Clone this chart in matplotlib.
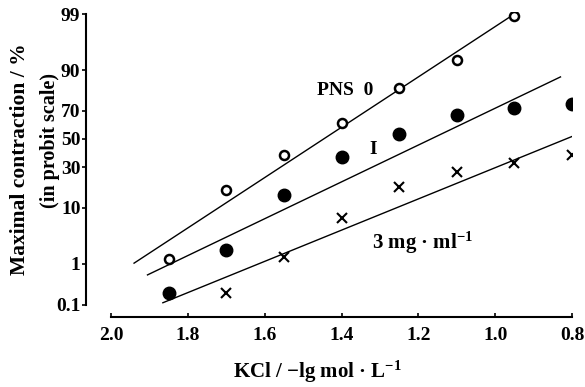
import numpy as np
import matplotlib
matplotlib.use('Agg')
import matplotlib.pyplot as plt
from statistics import NormalDist

plt.rcParams['font.family'] = ['Liberation Serif', 'DejaVu Serif']
plt.rcParams['font.weight'] = 'bold'
plt.rcParams['mathtext.fontset'] = 'custom'
plt.rcParams['mathtext.rm'] = 'Liberation Serif:bold'
plt.rcParams['mathtext.bf'] = 'Liberation Serif:bold'
plt.rcParams['mathtext.default'] = 'rm'

# KCl, -lg mol/L
x_open = [1.85, 1.70, 1.55, 1.40, 1.25, 1.10, 0.95]
y_open = [1.3, 17, 38, 62, 83, 93, 98.9]          # PNS 0
x_fill = [1.85, 1.70, 1.55, 1.40, 1.25, 1.10, 0.95, 0.80]
y_fill = [0.21, 1.9, 15, 37, 54, 67, 72, 74]      # I
x_cross = [1.70, 1.55, 1.40, 1.25, 1.10, 0.95, 0.80]
y_cross = [0.21, 1.4, 7, 18.6, 27, 33, 38]        # 3 mg/ml

# fitted lines (end points)
fit_open_x, fit_open_y = [1.94, 0.95], [1.04, 99.0]
fit_fill_x, fit_fill_y = [1.905, 0.83], [0.57, 87.6]
fit_cross_x, fit_cross_y = [1.865, 0.797], [0.115, 52.2]

ytick_vals = [0.1, 1, 10, 30, 50, 70, 90, 99]
ytick_labels = ['0.1', '1', '10', '30', '50', '70', '90', '99']
xtick_vals = [2.0, 1.8, 1.6, 1.4, 1.2, 1.0, 0.8]


def probit(p):
    return np.array([NormalDist().inv_cdf(v / 100.0) for v in np.atleast_1d(p)])


W, H = 585, 387
fig = plt.figure(figsize=(W / 100, H / 100), dpi=100)
ax = fig.add_axes([111 / W, 1 - 317 / H, (572 - 111) / W, (317 - 12) / H])

ax.plot(fit_open_x, probit(fit_open_y), color='black', lw=1.0)
ax.plot(fit_fill_x, probit(fit_fill_y), color='black', lw=1.0)
ax.plot(fit_cross_x, probit(fit_cross_y), color='black', lw=1.0)

ax.plot(x_open, probit(y_open), 'o', ms=6.5, mfc='white', mec='black', mew=1.8, ls='none')
ax.plot(x_fill, probit(y_fill), 'o', ms=9, mfc='black', mec='black', ls='none')
ax.plot(x_cross, probit(y_cross), 'x', ms=6.5, mec='black', mew=1.5, ls='none')

ax.text(1.39, 0.91, 'PNS  0', ha='center', va='center', fontsize=14, fontweight='bold')
ax.text(1.318, -0.205, 'I', ha='center', va='center', fontsize=14, fontweight='bold')
ax.text(1.19, -1.94, '3 mg \u00b7 ml$^{-1}$', ha='center', va='center',
        fontsize=15, fontweight='bold')

ax.set_xlim(2.0, 0.8)
ax.set_ylim(probit(0.1)[0] - 12 / 53.7, probit(99)[0] + 2 / 53.7)

ax.spines['top'].set_visible(False)
ax.spines['right'].set_visible(False)
ax.spines['left'].set_position(('outward', 18))
ax.spines['left'].set_bounds(probit(0.1)[0], probit(99)[0])
ax.spines['left'].set_linewidth(1.5)
ax.spines['bottom'].set_linewidth(1.5)

ax.set_yticks(probit(ytick_vals))
ax.set_yticklabels(ytick_labels)
ax.set_xticks(xtick_vals)
ax.set_xticklabels(['%.1f' % v for v in xtick_vals])
ax.tick_params(axis='y', direction='out', length=3, width=1.2, labelsize=14, pad=1)
ax.tick_params(axis='x', direction='in', length=3, width=1.2, labelsize=14, pad=7)

fig.text(20 / W, 1 - 159 / H, 'Maximal contraction / %', rotation=90,
         ha='center', va='center', fontsize=15.5, fontweight='bold')
fig.text(50 / W, 1 - 141 / H, '(in probit scale)', rotation=90,
         ha='center', va='center', fontsize=14.5, fontweight='bold')
fig.text(317 / W, 1 - 372 / H, 'KCl / \u2212lg mol \u00b7 L$^{-1}$', ha='center',
         va='center', fontsize=15, fontweight='bold')

fig.savefig('out.png', dpi=100)
